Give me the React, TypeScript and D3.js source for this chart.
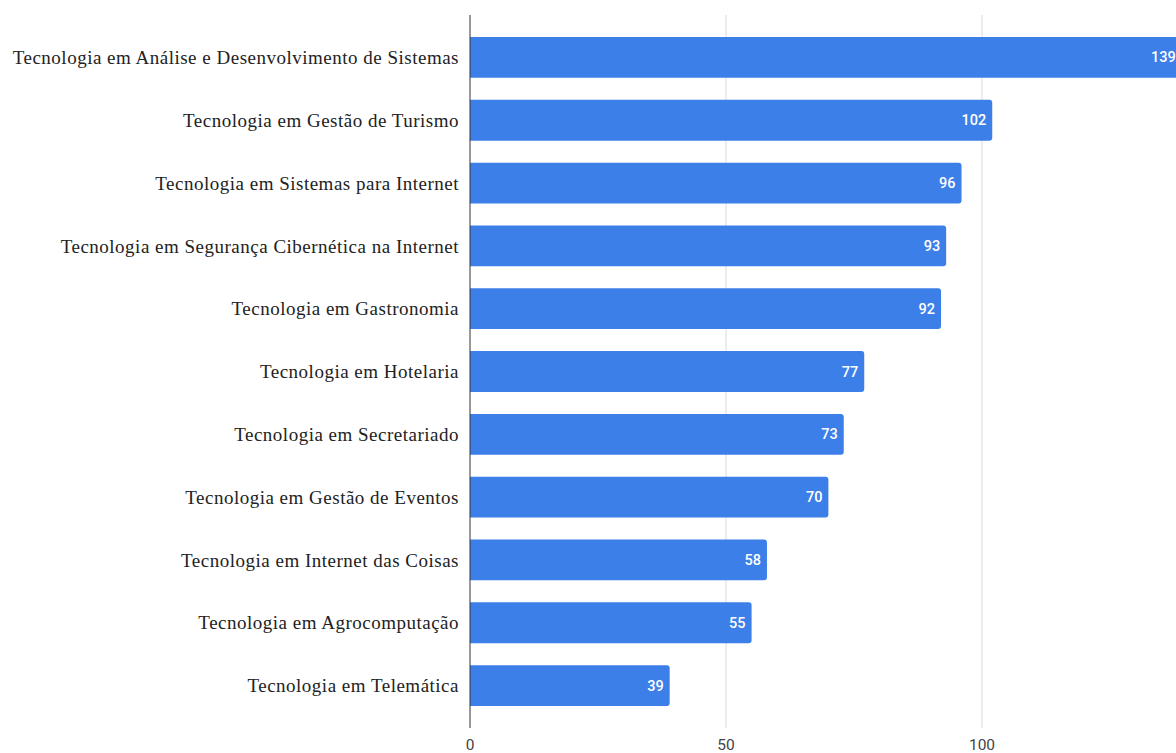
import React from "react";
import * as d3 from "d3";

const categories = [
  "Tecnologia em Análise e Desenvolvimento de Sistemas",
  "Tecnologia em Gestão de Turismo",
  "Tecnologia em Sistemas para Internet",
  "Tecnologia em Segurança Cibernética na Internet",
  "Tecnologia em Gastronomia",
  "Tecnologia em Hotelaria",
  "Tecnologia em Secretariado",
  "Tecnologia em Gestão de Eventos",
  "Tecnologia em Internet das Coisas",
  "Tecnologia em Agrocomputação",
  "Tecnologia em Telemática",
];
const values = [139, 102, 96, 93, 92, 77, 73, 70, 58, 55, 39];
const xTicks = [0, 50, 100];

const W = 1176;
const H = 753;

export default function App() {
  const x = d3.scaleLinear().domain([0, 100]).range([470, 982]);
  const y = d3
    .scaleBand<string>()
    .domain(categories)
    .range([15, 728])
    .paddingInner(0.35)
    .paddingOuter(0.35);
  const bh = y.bandwidth();
  const blue = "#3d7fe8";
  return (
    <svg
      width={W}
      height={H}
      style={{ position: "absolute", left: 0, top: 0, background: "#fff" }}
    >
      <defs>
        <clipPath id="clip">
          <rect x={0} y={0} width={W} height={H} />
        </clipPath>
      </defs>
      {xTicks.slice(1).map((t) => (
        <line
          key={t}
          x1={x(t)}
          x2={x(t)}
          y1={15}
          y2={728}
          stroke="#d9d9d9"
          strokeWidth={1}
        />
      ))}
      <g clipPath="url(#clip)">
        {categories.map((c, i) => {
          const x0 = x(0);
          const x1 = x(values[i]);
          const y0 = y(c)!;
          const r = 3;
          const d = `M${x0},${y0} H${x1 - r} Q${x1},${y0} ${x1},${y0 + r} V${
            y0 + bh - r
          } Q${x1},${y0 + bh} ${x1 - r},${y0 + bh} H${x0} Z`;
          return <path key={c} d={d} fill={blue} />;
        })}
        {categories.map((c, i) => (
          <text
            key={c}
            x={x(values[i]) - 6}
            y={y(c)! + bh / 2}
            dy="0.35em"
            textAnchor="end"
            fill="#fff"
            fontFamily="Roboto, Arial, sans-serif"
            fontSize={14.5}
            fontWeight={500}
          >
            {values[i]}
          </text>
        ))}
      </g>
      <line x1={x(0)} x2={x(0)} y1={15} y2={728} stroke="#333" strokeWidth={1} />
      {categories.map((c) => (
        <text
          key={c}
          x={459}
          y={y(c)! + bh / 2}
          dy="0.35em"
          textAnchor="end"
          fill="#222"
          fontFamily="'Liberation Serif', 'Times New Roman', serif"
          fontSize={19}
          letterSpacing={0.5}
        >
          {c}
        </text>
      ))}
      {xTicks.map((t) => (
        <text
          key={t}
          x={x(t)}
          y={745}
          dy="0.35em"
          textAnchor="middle"
          fill="#444"
          fontFamily="Roboto, Arial, sans-serif"
          fontSize={15.5}
        >
          {t}
        </text>
      ))}
    </svg>
  );
}
